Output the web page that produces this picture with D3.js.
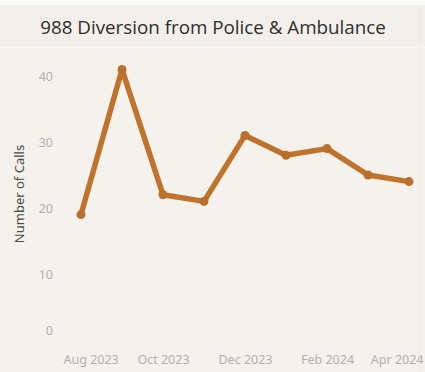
<!DOCTYPE html>
<html>
<head>
<meta charset="utf-8">
<script src="https://cdn.jsdelivr.net/npm/d3@7"></script>
<style>
  html, body { margin: 0; padding: 0; background: #f5f2ee; }
  svg { display: block; }
</style>
</head>
<body>
<svg id="chart" width="425" height="372"></svg>
<script>
const months = ["Aug 2023","Sep 2023","Oct 2023","Nov 2023","Dec 2023","Jan 2024","Feb 2024","Mar 2024","Apr 2024"];
const calls = [19, 41, 22, 21, 31, 28, 29, 25, 24];
const xTickLabels = ["Aug 2023","Oct 2023","Dec 2023","Feb 2024","Apr 2024"];
const yTicks = [0, 10, 20, 30, 40];
const titleText = "988 Diversion from Police & Ambulance";
const yAxisTitle = "Number of Calls";

const W = 425, H = 372;
const svg = d3.select("#chart");

// backgrounds
svg.append("rect").attr("x", 0).attr("y", 0).attr("width", W).attr("height", H).attr("fill", "#f5f2ee");
svg.append("rect").attr("x", 0).attr("y", 0).attr("width", W).attr("height", 5).attr("fill", "#fbfbfa");
svg.append("rect").attr("x", 0).attr("y", 5).attr("width", W).attr("height", 42).attr("fill", "#f3f0ec");
svg.append("line").attr("x1", 0).attr("x2", W).attr("y1", 47.5).attr("y2", 47.5).attr("stroke", "#f8f6f3").attr("stroke-width", 1);
svg.append("line").attr("x1", 419.5).attr("x2", 419.5).attr("y1", 5).attr("y2", H).attr("stroke", "#efece8").attr("stroke-width", 1);

// title
svg.append("text")
  .attr("x", 213).attr("y", 34)
  .attr("text-anchor", "middle")
  .attr("font-family", "'Open Sans', sans-serif")
  .attr("font-size", 18.8)
  .attr("fill", "#2e2e2e")
  .text(titleText);

// scales
const x = d3.scalePoint().domain(months).range([81, 409]).padding(0);
const y = d3.scaleLinear().domain([0, 10, 40]).range([330, 274, 76]);

// y axis
const yAxis = d3.axisLeft(y).tickValues(yTicks).tickSize(0).tickPadding(0);
const gy = svg.append("g").attr("transform", "translate(53,0)").call(yAxis);
gy.select(".domain").remove();
gy.selectAll("text")
  .attr("font-family", "'Noto Sans', sans-serif")
  .attr("font-size", 12.5)
  .attr("fill", "#b0b0b0");

// y axis title
svg.append("text")
  .attr("transform", "translate(23.5,194) rotate(-90)")
  .attr("text-anchor", "middle")
  .attr("font-family", "'Noto Sans', sans-serif")
  .attr("font-size", 13)
  .attr("fill", "#4a4a4a")
  .text(yAxisTitle);

// x axis
const xAxis = d3.axisBottom(x).tickValues(xTickLabels).tickSize(0).tickPadding(0);
const gx = svg.append("g").attr("transform", "translate(0,364)").call(xAxis);
gx.select(".domain").remove();
gx.selectAll("text")
  .attr("font-family", "'Noto Sans', sans-serif")
  .attr("font-size", 12.5)
  .attr("fill", "#b0b0b0")
  .attr("dy", 0);
// clamp edge labels inside plot area
const minX = 63, maxX = 423;
gx.selectAll(".tick").each(function(d) {
  const t = d3.select(this).select("text");
  const w = t.node().getComputedTextLength();
  const cx = x(d);
  let shift = 0;
  if (cx - w / 2 < minX) shift = minX - (cx - w / 2);
  if (cx + w / 2 > maxX) shift = maxX - (cx + w / 2);
  t.attr("x", shift);
});

// line
const line = d3.line().x((d, i) => x(months[i])).y(d => y(d));
svg.append("path")
  .datum(calls)
  .attr("d", line)
  .attr("fill", "none")
  .attr("stroke", "#c0732c")
  .attr("stroke-width", 5.5)
  .attr("stroke-linejoin", "round")
  .attr("stroke-linecap", "round");

svg.append("g").selectAll("circle")
  .data(calls)
  .join("circle")
  .attr("cx", (d, i) => x(months[i]))
  .attr("cy", d => y(d))
  .attr("r", 4.5)
  .attr("fill", "#b9702c");
</script>
</body>
</html>
